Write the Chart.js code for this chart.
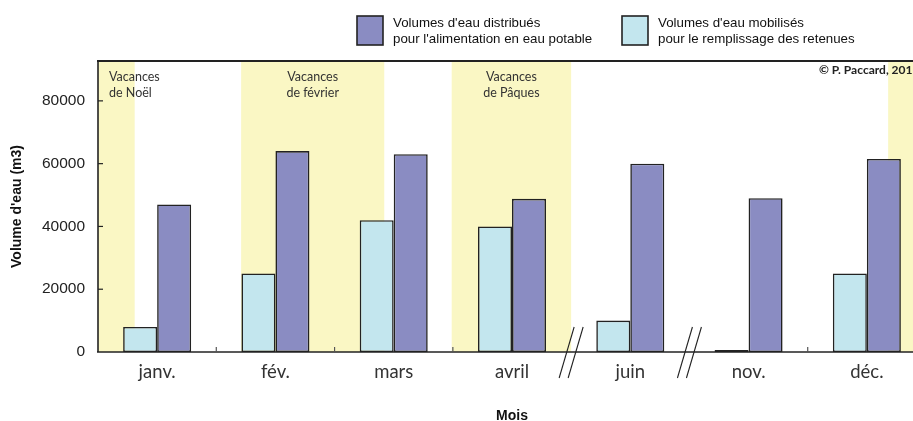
<!DOCTYPE html>
<html lang="fr">
<head>
<meta charset="utf-8">
<script src="https://cdn.jsdelivr.net/npm/chart.js@4/dist/chart.umd.min.js"></script>
<style>
html,body{margin:0;padding:0;overflow:hidden;background:#fff;width:913px;height:421px;}
#wrap{position:relative;width:940px;height:421px;}
</style>
</head>
<body>
<div id="wrap"><canvas id="c" width="940" height="421"></canvas></div>
<script>
// ---- data ----
const months = ['janv.', 'fév.', 'mars', 'avril', 'juin', 'nov.', 'déc.'];
const distribues = [47000, 64000, 63000, 48800, 60000, 49000, 61500];   // alimentation en eau potable
const mobilises  = [8000, 25000, 42000, 40000, 10000, 600, 25000];      // remplissage des retenues
const yTickValues = [0, 20000, 40000, 60000, 80000];
const legendLines = [
  ['Volumes d\'eau distribués', 'pour l\'alimentation en eau potable'],
  ['Volumes d\'eau mobilisés', 'pour le remplissage des retenues']
];
// holiday periods, in month-category units
const holidayFrom  = [-0.5, 0.71, 2.49, 6.18];
const holidayTo    = [-0.19, 1.92, 3.5, 6.5];
const holidayText  = [['Vacances', 'de Noël'], ['Vacances', 'de février'], ['Vacances', 'de Pâques'], null];
const breaksAt = [3.5, 4.5];          // axis breaks (avril → juin, juin → nov.)
const boundaryTicks = [0.5, 1.5, 2.5, 5.5, 6.5];
const credit = '© P. Paccard, 201';

const DARK = 'rgb(138,140,194)';
const LIGHT = 'rgb(195,230,238)';
const YELLOW = 'rgb(250,247,196)';
const INK = '#222';
const MYRIAD = 'Lato, "Open Sans", sans-serif';
const ARIAL = '"Liberation Sans", Arial, sans-serif';

const decor = {
  id: 'decor',
  beforeDatasetsDraw(chart) {
    const {ctx, chartArea: a, scales: {x}} = chart;
    ctx.save();
    ctx.fillStyle = YELLOW;
    for (let i = 0; i < holidayFrom.length; i++) {
      const x0 = x.getPixelForValue(holidayFrom[i]);
      const x1 = x.getPixelForValue(holidayTo[i]);
      ctx.fillRect(x0, a.top, x1 - x0, a.bottom - a.top);
    }
    ctx.restore();
  },
  afterDatasetsDraw(chart) {
    const {ctx, chartArea: a, scales: {x, y}} = chart;
    ctx.save();
    ctx.strokeStyle = INK;
    // top border
    ctx.lineWidth = 2.2;
    ctx.beginPath(); ctx.moveTo(a.left - 1, a.top); ctx.lineTo(a.right + 20, a.top); ctx.stroke();
    // left axis
    ctx.lineWidth = 1.6;
    ctx.beginPath(); ctx.moveTo(a.left, a.top); ctx.lineTo(a.left, a.bottom); ctx.stroke();
    // bottom axis
    ctx.beginPath(); ctx.moveTo(a.left - 1, a.bottom); ctx.lineTo(a.right + 20, a.bottom); ctx.stroke();
    // inner ticks on y
    ctx.lineWidth = 1.2;
    yTickValues.forEach(v => {
      if (v === 0) return;
      const py = y.getPixelForValue(v);
      ctx.beginPath(); ctx.moveTo(a.left, py); ctx.lineTo(a.left + 5, py); ctx.stroke();
    });
    // inner ticks on x at month boundaries
    ctx.strokeStyle = '#555';
    boundaryTicks.forEach(v => {
      const px = x.getPixelForValue(v);
      ctx.beginPath(); ctx.moveTo(px, a.bottom); ctx.lineTo(px, a.bottom - 5); ctx.stroke();
    });
    // axis breaks
    ctx.strokeStyle = INK;
    ctx.lineWidth = 1.1;
    breaksAt.forEach(v => {
      const px = x.getPixelForValue(v);
      [-4.5, 4.5].forEach(d => {
        ctx.beginPath();
        ctx.moveTo(px + d - 7.5, a.bottom + 26);
        ctx.lineTo(px + d + 7.5, a.bottom - 25);
        ctx.stroke();
      });
    });
    // holiday labels
    ctx.fillStyle = '#333';
    ctx.font = '12.5px ' + MYRIAD;
    ctx.textBaseline = 'alphabetic';
    holidayText.forEach((t, i) => {
      if (!t) return;
      const x0 = x.getPixelForValue(holidayFrom[i]);
      const x1 = x.getPixelForValue(holidayTo[i]);
      let tx, align;
      if (i === 0) { tx = x0 + 11; align = 'left'; }
      else { tx = (x0 + x1) / 2; align = 'center'; }
      ctx.textAlign = align;
      ctx.fillText(t[0], tx, a.top + 20);
      ctx.fillText(t[1], tx, a.top + 35.5);
    });
    // credit
    ctx.font = 'bold 12px ' + MYRIAD;
    ctx.textAlign = 'left';
    ctx.fillStyle = '#222';
    ctx.fillText(credit, 819, a.top + 13);
    // legend
    const items = [{c: DARK, t: legendLines[0], bx: 357}, {c: LIGHT, t: legendLines[1], bx: 622}];
    ctx.font = '13.3px ' + ARIAL;
    items.forEach(it => {
      ctx.fillStyle = it.c;
      ctx.fillRect(it.bx, 16, 26, 29);
      ctx.strokeStyle = INK; ctx.lineWidth = 1.6;
      ctx.strokeRect(it.bx, 16, 26, 29);
      ctx.fillStyle = '#111';
      ctx.textAlign = 'left';
      ctx.fillText(it.t[0], it.bx + 36, 27);
      ctx.fillText(it.t[1], it.bx + 36, 43);
    });
    ctx.restore();
  }
};

new Chart(document.getElementById('c'), {
  type: 'bar',
  data: {
    labels: months,
    datasets: [
      {label: legendLines[1].join(' '), data: mobilises, backgroundColor: LIGHT, borderColor: INK, borderWidth: 1.6, borderSkipped: false},
      {label: legendLines[0].join(' '), data: distribues, backgroundColor: DARK, borderColor: INK, borderWidth: 1.6, borderSkipped: false}
    ]
  },
  options: {
    responsive: false,
    animation: false,
    devicePixelRatio: 1,
    layout: {padding: {left: 0, right: 14, top: 61, bottom: 0}},
    plugins: {legend: {display: false}, tooltip: {enabled: false}},
    datasets: {bar: {categoryPercentage: 0.575, barPercentage: 1.0}},
    scales: {
      x: {
        grid: {display: false, drawTicks: false},
        border: {display: false},
        ticks: {font: {family: MYRIAD, size: 18.5}, color: '#333', padding: 9},
        title: {display: true, text: 'Mois', font: {family: ARIAL, size: 14, weight: 'bold'}, color: '#111', padding: {top: 0, bottom: -4}},
        afterFit(s) { s.height = 69; }
      },
      y: {
        min: 0, max: 92700,
        grid: {display: false, drawTicks: false},
        border: {display: false},
        afterBuildTicks(s) { s.ticks = yTickValues.map(v => ({value: v})); },
        ticks: {font: {family: ARIAL, size: 15.5}, color: '#222', padding: 13, callback: v => String(v)},
        title: {display: true, text: 'Volume d\'eau (m3)', font: {family: ARIAL, size: 14, weight: 'bold'}, color: '#111', padding: {top: 9, bottom: 0}},
        afterFit(s) { s.width = 98; }
      }
    }
  },
  plugins: [decor]
});
</script>
</body>
</html>
